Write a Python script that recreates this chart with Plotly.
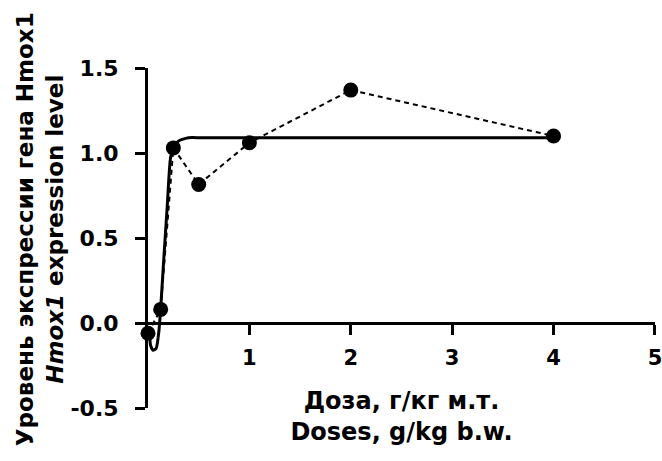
import plotly.graph_objects as go

# Measured data
doses = [0, 0.125, 0.25, 0.5, 1, 2, 4]
expression = [-0.06, 0.08, 1.03, 0.815, 1.06, 1.37, 1.10]

# Fitted curve
fit_x = [0.015, 0.025, 0.05, 0.08, 0.107, 0.123, 0.156, 0.189, 0.222, 0.254, 0.30, 0.337, 0.40, 0.53, 1, 2, 4]
fit_y = [-0.03, -0.13, -0.16, -0.15, -0.05, 0.07, 0.38, 0.68, 0.97, 1.04, 1.07, 1.08, 1.09, 1.09, 1.09, 1.09, 1.09]

x_ticks = [1, 2, 3, 4, 5]
y_ticks = [-0.5, 0.0, 0.5, 1.0, 1.5]

FONT = "DejaVu Sans"

fig = go.Figure()
fig.add_trace(go.Scatter(
    x=fit_x, y=fit_y, mode="lines",
    line=dict(color="black", width=3, shape="spline", smoothing=0.6),
    cliponaxis=False, showlegend=False, hoverinfo="skip",
))
fig.add_trace(go.Scatter(
    x=doses, y=expression, mode="lines+markers",
    line=dict(color="black", width=2, dash="5px,4px"),
    marker=dict(color="black", size=15),
    cliponaxis=False, showlegend=False,
))

fig.update_layout(
    width=662, height=461,
    margin=dict(l=148, r=7, t=68, b=53, autoexpand=False),
    plot_bgcolor="white", paper_bgcolor="white",
    font=dict(family=FONT, color="black"),
    xaxis=dict(
        range=[0, 5.0005], anchor="free", position=0.25,
        automargin=False,
        showline=True, linewidth=3, linecolor="black",
        showgrid=False, zeroline=False,
        ticks="outside", ticklen=10, tickwidth=3, tickcolor="black",
        tickvals=x_ticks, ticktext=[str(v) for v in x_ticks],
        ticklabelstandoff=5, ticklabeloverflow="allow",
        tickfont=dict(family=FONT, size=21, color="black", weight="bold"),
        title=dict(text="Доза, г/кг м.т.<br>Doses, g/kg b.w.",
                   font=dict(family=FONT, size=24, color="black", weight="bold"),
                   standoff=22),
    ),
    yaxis=dict(
        range=[-0.5, 1.5], automargin=False,
        showline=True, linewidth=3, linecolor="black",
        showgrid=False, zeroline=False,
        ticks="outside", ticklen=10, tickwidth=3, tickcolor="black",
        tickvals=y_ticks, ticktext=[f"{v:.1f}" for v in y_ticks],
        ticklabelstandoff=12,
        tickfont=dict(family=FONT, size=22, color="black", weight="bold"),
    ),
    annotations=[dict(
        text="Уровень экспрессии гена Hmox1<br><i>Hmox1</i> expression level",
        xref="paper", yref="paper", x=0, y=0.526,
        xanchor="center", yanchor="middle", xshift=-108,
        textangle=-90, showarrow=False,
        font=dict(family=FONT, size=23, color="black", weight="bold"),
    )],
)

fig.write_html("out.html")
